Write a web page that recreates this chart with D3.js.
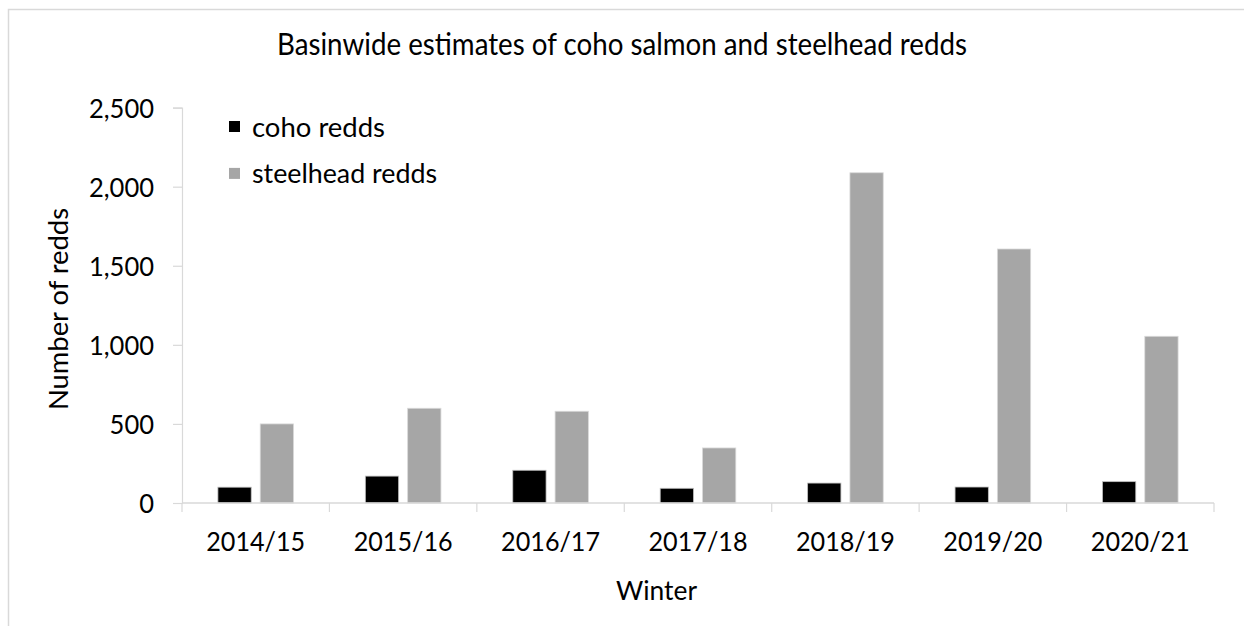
<!DOCTYPE html>
<html>
<head>
<meta charset="utf-8">
<script src="https://cdn.jsdelivr.net/npm/d3@7"></script>
<style>
  html, body { margin: 0; padding: 0; background: #fff; }
  svg { display: block; }
  text { font-family: Lato, "Noto Sans", sans-serif; fill: #000; }
</style>
</head>
<body>
<svg id="chart" width="1244" height="626"></svg>
<script>
const categories = ["2014/15", "2015/16", "2016/17", "2017/18", "2018/19", "2019/20", "2020/21"];
const seriesNames = ["coho redds", "steelhead redds"];
const cohoRedds = [100, 170, 207, 93, 126, 101, 135];
const steelheadRedds = [500, 599, 580, 348, 2088, 1606, 1054];
const yTicks = [0, 500, 1000, 1500, 2000, 2500];
const seriesColors = ["#000000", "#a6a6a6"];

const title = "Basinwide estimates of coho salmon and steelhead redds";
const xTitle = "Winter";
const yTitle = "Number of redds";

const svg = d3.select("#chart");
const W = 1244, H = 626;
const plot = { left: 182, right: 1214, top: 107.6, bottom: 503 };
const FS = 27.5;      // font size (px)
const FS_TITLE = 31.5;

// outer frame
svg.append("rect").attr("x", 8.5).attr("y", 9.5).attr("width", W + 10).attr("height", H + 10)
  .attr("fill", "#fff").attr("stroke", "#d9d9d9").attr("stroke-width", 1.5);

const x = d3.scaleBand().domain(categories).range([plot.left, plot.right]).padding(0);
const xi = d3.scaleBand().domain(seriesNames).range([0, x.bandwidth()])
  .paddingInner(0.213).paddingOuter(0.849);
const y = d3.scaleLinear().domain([0, 2500]).range([plot.bottom, plot.top]);

// set size, then squeeze group so that the reference element has the target width
function squeeze(sel, refSel, fs, target) {
  sel.style("font-size", fs + "px");
  const k = target / refSel.node().getComputedTextLength();
  sel.each(function () {
    const w = this.getComputedTextLength();
    d3.select(this).attr("textLength", w * k).attr("lengthAdjust", "spacingAndGlyphs");
  });
}

// y axis
const yAxis = svg.append("g").attr("transform", `translate(${plot.left},0)`)
  .call(d3.axisLeft(y).tickValues(yTicks).tickSize(9).tickPadding(19)
    .tickFormat(d3.format(",")));
yAxis.select(".domain").attr("stroke", "#d9d9d9").attr("stroke-width", 1.2);
yAxis.selectAll(".tick line").attr("stroke", "#d9d9d9").attr("stroke-width", 1.2);
const ytxt = yAxis.selectAll(".tick text").attr("font-family", null).attr("fill", "#000")
  .attr("dy", null).attr("y", 9.5);
squeeze(ytxt, ytxt.filter(d => d === 1500), FS, 65);

// bars
const data = categories.map((c, i) => ({ cat: c, vals: [cohoRedds[i], steelheadRedds[i]] }));
const groups = svg.append("g").selectAll("g").data(data).join("g")
  .attr("transform", d => `translate(${x(d.cat)},0)`);
groups.selectAll("rect").data(d => d.vals.map((v, j) => ({ s: seriesNames[j], v, j })))
  .join("rect")
  .attr("x", d => xi(d.s))
  .attr("width", xi.bandwidth())
  .attr("y", d => y(d.v))
  .attr("height", d => y(0) - y(d.v))
  .attr("fill", d => seriesColors[d.j])
  .attr("stroke", d => d.j === 0 ? "#bfbfbf" : "#d9d9d9")
  .attr("stroke-width", 0.8);

// x axis
const xAxis = svg.append("g").attr("transform", `translate(0,${plot.bottom})`)
  .call(d3.axisBottom(x).tickSize(0).tickPadding(0));
xAxis.select(".domain").remove();
xAxis.append("line").attr("x1", plot.left).attr("x2", plot.right).attr("y1", 0).attr("y2", 0)
  .attr("stroke", "#d9d9d9").attr("stroke-width", 1.5);
xAxis.selectAll(".bound").data(categories.concat(["end"])).join("line").attr("class", "bound")
  .attr("x1", (d, i) => i < categories.length ? x(d) : plot.right)
  .attr("x2", (d, i) => i < categories.length ? x(d) : plot.right)
  .attr("y1", 0).attr("y2", 9)
  .attr("stroke", "#d9d9d9").attr("stroke-width", 1.2);
const xtxt = xAxis.selectAll(".tick text").attr("font-family", null).attr("fill", "#000")
  .attr("y", 47.5).attr("dy", 0);
squeeze(xtxt, xtxt.filter((d, i) => i === 0), FS, 99);

// title
const t = svg.append("text").attr("x", 622).attr("y", 55).attr("text-anchor", "middle").text(title);
squeeze(t, t, FS_TITLE, 690);

// axis titles
const xt = svg.append("text").attr("x", 656.5).attr("y", 600).attr("text-anchor", "middle").text(xTitle);
squeeze(xt, xt, FS, 81);
const yt = svg.append("text").attr("transform", `translate(68,309) rotate(-90)`)
  .attr("text-anchor", "middle").text(yTitle);
squeeze(yt, yt, FS, 202);

// legend
const legend = svg.append("g");
const legY = [126.5, 173.4];
const legTarget = [133, 185];
seriesNames.forEach((s, i) => {
  legend.append("rect").attr("x", 229).attr("y", legY[i] - 5.5).attr("width", 11).attr("height", 11)
    .attr("fill", seriesColors[i]);
  const lt = legend.append("text").attr("x", 252).attr("y", legY[i] + 10).text(s);
  squeeze(lt, lt, FS, legTarget[i]);
});
</script>
</body>
</html>
